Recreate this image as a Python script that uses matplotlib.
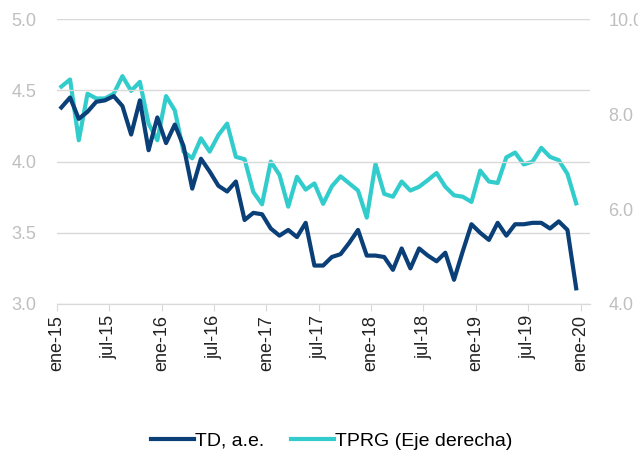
import matplotlib
matplotlib.use('Agg')
import matplotlib.pyplot as plt

plt.rcParams['font.family'] = ['Liberation Sans', 'DejaVu Sans']

# monthly, ene-15 .. dic-19
td = [4.38, 4.45, 4.30, 4.35, 4.42, 4.43, 4.46, 4.39, 4.19, 4.43, 4.08, 4.31,
      4.13, 4.26, 4.11, 3.81, 4.02, 3.93, 3.83, 3.79, 3.86, 3.59, 3.64, 3.63,
      3.53, 3.48, 3.52, 3.47, 3.57, 3.27, 3.27, 3.33, 3.35, 3.43, 3.52, 3.34,
      3.34, 3.33, 3.24, 3.39, 3.25, 3.39, 3.34, 3.30, 3.36, 3.17, 3.37, 3.56,
      3.50, 3.45, 3.57, 3.48, 3.56, 3.56, 3.57, 3.57, 3.53, 3.58, 3.52, 3.11]
tprg = [8.58, 8.73, 7.45, 8.43, 8.33, 8.33, 8.43, 8.80, 8.49, 8.68, 7.80, 7.45,
        8.38, 8.08, 7.21, 7.07, 7.49, 7.21, 7.56, 7.80, 7.10, 7.05, 6.36, 6.10,
        7.00, 6.72, 6.05, 6.68, 6.41, 6.54, 6.11, 6.48, 6.69, 6.54, 6.39, 5.82,
        6.95, 6.32, 6.26, 6.58, 6.39, 6.47, 6.61, 6.76, 6.47, 6.29, 6.26, 6.15,
        6.81, 6.58, 6.55, 7.09, 7.19, 6.94, 7.00, 7.29, 7.10, 7.03, 6.74, 6.12]
tick_labels = ['ene-15', 'jul-15', 'ene-16', 'jul-16', 'ene-17', 'jul-17',
               'ene-18', 'jul-18', 'ene-19', 'jul-19', 'ene-20']

x = [i + 0.5 for i in range(len(td))]

c_td = '#0A3F78'
c_tprg = '#33CCCC'
grey = '#BFBFBF'

fig = plt.figure(figsize=(6.38, 4.57), dpi=100)
ax = fig.add_axes([0.0893, 0.3348, 0.8357, 0.6232])
ax2 = ax.twinx()

l1, = ax.plot(x, td, color=c_td, lw=3, label='TD, a.e.', zorder=3)
l2, = ax2.plot(x, tprg, color=c_tprg, lw=3, label='TPRG (Eje derecha)', zorder=2)
ax.set_zorder(ax2.get_zorder() + 1)
ax.patch.set_visible(False)

ax.set_xlim(0, 61.1)
ax.set_ylim(3.0, 5.0)
ax2.set_ylim(4.0, 10.0)
ax.set_yticks([3.0, 3.5, 4.0, 4.5, 5.0])
ax2.set_yticks([4.0, 6.0, 8.0, 10.0])
ax.yaxis.set_major_formatter(matplotlib.ticker.FormatStrFormatter('%.1f'))
ax2.yaxis.set_major_formatter(matplotlib.ticker.FormatStrFormatter('%.1f'))
ax.set_xticks(range(0, 61, 6))
ax.set_xticklabels(tick_labels, rotation=90, fontsize=13, color='#222222')

ax.grid(axis='y', color='#D9D9D9', lw=1)
ax.set_axisbelow(True)
for a in (ax, ax2):
    for s in ('top', 'left', 'right'):
        a.spines[s].set_visible(False)
    a.spines['bottom'].set_color('#D9D9D9')
ax.tick_params(axis='x', length=5, color='#D9D9D9', pad=3)
ax.tick_params(axis='y', length=0, labelsize=13, labelcolor=grey, pad=15)
ax2.tick_params(axis='y', length=0, labelsize=13, labelcolor=grey, pad=13)

fig.legend(handles=[l1, l2], loc='center', bbox_to_anchor=(0.52, 0.035),
           ncol=2, frameon=False, fontsize=14, handlelength=2.2,
           handletextpad=0.05, columnspacing=1.4)

fig.savefig('out.png', dpi=100)
